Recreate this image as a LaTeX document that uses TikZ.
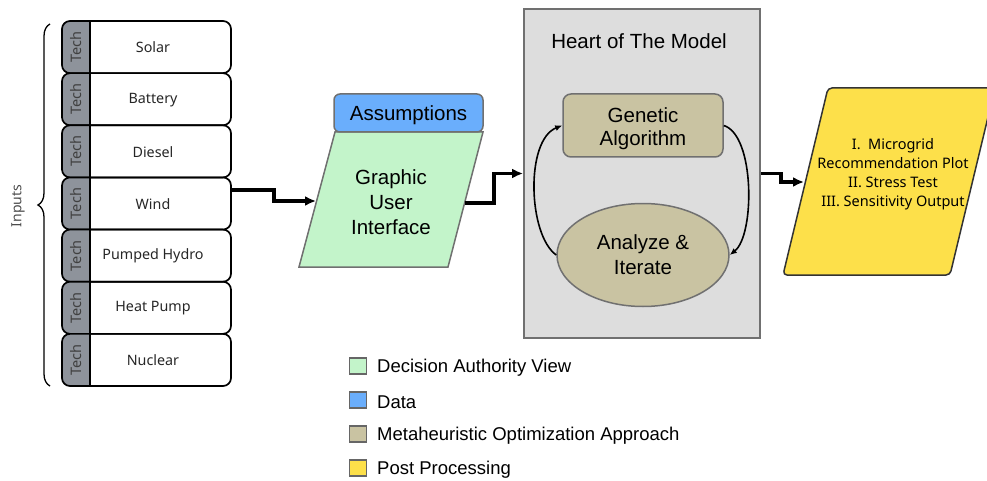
\documentclass[tikz,border=0pt]{standalone}
\usepackage{fontspec}
\setmainfont{Liberation Sans}
\newfontfamily\techfont{Noto Sans}
\usetikzlibrary{arrows.meta,decorations.pathreplacing,shapes.geometric}
\definecolor{techgray}{HTML}{8E939B}
\definecolor{datablue}{HTML}{6AAEFC}
\definecolor{guigreen}{HTML}{C3F4CA}
\definecolor{tanbox}{HTML}{C9C3A2}
\definecolor{postyellow}{HTML}{FDE04A}
\definecolor{heartbg}{HTML}{DDDDDD}
\definecolor{edgegray}{HTML}{707070}
\tikzset{
  rowbox/.style={draw=black, line width=1.7pt, rounded corners=8pt, minimum width=169pt, minimum height=52.14pt, inner sep=0pt},
  techlbl/.style={font=\techfont\fontsize{14.5}{16}\selectfont, text=black!75, rotate=90, inner sep=0pt},
  rowlbl/.style={font=\techfont\fontsize{14.3}{16}\selectfont, text=black!85, inner sep=0pt},
  flow/.style={line width=3.2pt, -{Latex[length=11pt,width=10pt]}},
  loopflow/.style={line width=1.6pt, -{Latex[length=7pt,width=6pt]}},
  bigtxt/.style={font=\fontsize{20.5}{25}\selectfont, align=center},
  legsq/.style={draw=black!60, line width=1.8pt, minimum width=17pt, minimum height=16pt, inner sep=0pt},
  legtxt/.style={font=\fontsize{18.5}{22}\selectfont, anchor=west, inner sep=0pt}
}
\begin{document}
\begin{tikzpicture}[x=1pt,y=-1pt]
\useasboundingbox (0,0) rectangle (987,481);
% Tech rows
\foreach \i/\lab in {1/Solar,2/Battery,3/Diesel,4/Wind,5/Pumped Hydro,6/Heat Pump,7/Nuclear}{
  \pgfmathsetmacro\yt{21+(\i-1)*52.143}
  \pgfmathsetmacro\yb{\yt+52.143}
  \pgfmathsetmacro\yc{\yt+26.07}
  \fill[techgray, rounded corners=8pt] (90,\yt) -- (62,\yt) -- (62,\yb) -- (90,\yb);
  \node[rowbox] (r\i) at (146.5,\yc) {};
  \draw[line width=1.7pt] (90,\yt) -- (90,\yb);
  \node[techlbl] (t\i) at (76.5,\yc) {Tech};
  \node[rowlbl] (l\i) at (153,\yc+0.5) {\lab};
}
% Brace and Inputs label
\draw[line width=1.3pt, decorate, decoration={brace, amplitude=12pt}] (50,386) -- (50,24);
\node[rotate=90, font=\techfont\fontsize{14}{16}\selectfont, text=black!70] (inputs) at (18,206) {Inputs};
% GUI
\draw[fill=guigreen, draw=edgegray, line width=1.5pt] (335,132) -- (483,132) -- (448,267) -- (299,267) -- cycle;
\node[bigtxt] (gui) at (391,202) {Graphic\\User\\Interface};
\node[draw=edgegray, fill=datablue, rounded corners=6pt, line width=1.5pt, minimum width=149pt, minimum height=38pt, inner sep=0pt, font=\fontsize{20.5}{25}\selectfont, text height=14.7pt, text depth=0pt] (assume) at (408.5,113) {Assumptions};
\coordinate (windE) at (231,190);
\coordinate (guiW) at (316,201);
\coordinate (guiE) at (465,203);
% Heart of the model
\node[draw=edgegray, fill=heartbg, line width=1.8pt, minimum width=236pt, minimum height=329pt, inner sep=0pt] (heart) at (642,173.5) {};
\node[font=\fontsize{20.5}{25}\selectfont] (htitle) at (639,41) {Heart of The Model};
\node[draw=edgegray, fill=tanbox, rounded corners=8pt, line width=1.5pt, minimum width=160pt, minimum height=63pt, inner sep=0pt] (ga) at (643,125.5) {};
\node[align=center, font=\fontsize{20.5}{23.5}\selectfont] (gatxt) at (643,128.5) {Genetic\\Algorithm};
\node[ellipse, draw=edgegray, fill=tanbox, line width=1.5pt, minimum width=172pt, minimum height=103pt, inner sep=0pt, align=center, font=\fontsize{20.5}{25}\selectfont] (ana) at (643,255) {Analyze \&\\Iterate};
\draw[loopflow] (ana.west) .. controls (528,235) and (525,140) .. (ga.west);
\draw[loopflow] (ga.east) .. controls (755,135) and (755,235) .. (ana.east);
% Post processing
\draw[fill=postyellow, draw=black!80, line width=1.5pt, rounded corners=4pt] (828,88) -- (995,88) -- (950,275) -- (783,275) -- cycle;
\node[align=center, font=\techfont\fontsize{14.5}{19}\selectfont] (post) at (893,174) {I.\ \ Microgrid\\Recommendation Plot\\II. Stress Test\\III. Sensitivity Output};
\coordinate (yelW) at (804,182);
% Connectors
\draw[flow] (windE) -- (274,190) |- (guiW);
\draw[flow] (guiE) -- (494,203) |- (heart.west);
\draw[flow] (heart.east) -- (781,173.5) |- (yelW);
% Legend
\node[legsq, fill=guigreen] (k1) at (358,366) {};
\node[legtxt] (k1t) at (377,368) {Decision Authority View};
\node[legsq, fill=datablue] (k2) at (358,400) {};
\node[legtxt] (k2t) at (377,402) {Data};
\node[legsq, fill=tanbox] (k3) at (358,434) {};
\node[legtxt] (k3t) at (377,436) {Metaheuristic Optimization Approach};
\node[legsq, fill=postyellow] (k4) at (358,468) {};
\node[legtxt] (k4t) at (377,470) {Post Processing};
\end{tikzpicture}
\end{document}
